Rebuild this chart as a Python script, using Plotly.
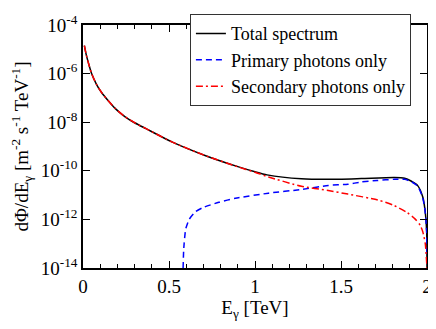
import plotly.graph_objects as go

# values
x_total = [0.008, 0.018, 0.031, 0.05, 0.079, 0.108, 0.147, 0.185, 0.243,
           0.30, 0.367, 0.52, 0.713, 0.9, 1.0, 1.07, 1.27, 1.426, 1.618,
           1.81, 1.87, 1.907, 1.946, 1.975, 1.988, 1.998, 2.0]
y_total = [1.41e-5, 6.3e-6, 2.82e-6, 1.0e-6, 3.55e-7, 1.66e-7, 7.6e-8,
           3.8e-8, 1.7e-8, 9.5e-9, 5.4e-9, 1.51e-9, 4.17e-10, 1.48e-10,
           9.1e-11, 6.8e-11, 4.7e-11, 4.47e-11, 4.8e-11, 5.25e-11, 4.9e-11,
           3.8e-11, 2.45e-11, 8.5e-12, 2.57e-12, 3.2e-13, 1e-14]

x_primary = [0.582, 0.585, 0.588, 0.597, 0.617, 0.655, 0.694, 0.79, 0.886,
             1.078, 1.27, 1.426, 1.54, 1.618, 1.71, 1.81, 1.87, 1.907, 1.946,
             1.975, 1.988, 1.998, 2.0]
y_primary = [1e-14, 5e-14, 1.02e-13, 4e-13, 1e-12, 2.1e-12, 3.0e-12, 5.1e-12,
             7.4e-12, 1.2e-11, 1.7e-11, 2.5e-11, 2.8e-11, 3.47e-11, 4.0e-11,
             4.47e-11, 4.47e-11, 3.63e-11, 2.34e-11, 7.9e-12, 2.5e-12, 3.2e-13,
             1e-14]

x_secondary = [0.008, 0.018, 0.031, 0.05, 0.079, 0.108, 0.147, 0.185, 0.243,
               0.30, 0.367, 0.52, 0.713, 0.9, 1.0, 1.078, 1.27, 1.426, 1.54,
               1.714, 1.81, 1.885, 1.93, 1.96, 1.975, 1.99, 2.0]
y_secondary = [1.41e-5, 6.3e-6, 2.82e-6, 1.0e-6, 3.55e-7, 1.66e-7, 7.6e-8,
               3.8e-8, 1.7e-8, 9.5e-9, 5.4e-9, 1.51e-9, 4.17e-10, 1.46e-10,
               8.7e-11, 5.6e-11, 2.3e-11, 1.55e-11, 1.1e-11, 6.3e-12, 3.7e-12,
               1.9e-12, 1.05e-12, 5.75e-13, 3.2e-13, 1e-13, 1e-14]

y_tickvals = [1e-14, 1e-12, 1e-10, 1e-8, 1e-6, 1e-4]
y_ticktext = ["10<sup>-14</sup>", "10<sup>-12</sup>", "10<sup>-10</sup>",
              "10<sup>-8</sup>", "10<sup>-6</sup>", "10<sup>-4</sup>"]
x_tickvals = [0, 0.5, 1, 1.5, 2]
x_ticktext = ["0", "0.5", "1", "1.5", "2"]

FONT = "Liberation Serif, Times New Roman, Times, serif"
FS = 19

# the page body has an 8px margin, so the figure is sized to fit inside it
fig = go.Figure()
fig.add_trace(go.Scatter(x=x_total, y=y_total, mode="lines",
                         name="Total spectrum",
                         line=dict(color="black", width=1.5, shape="spline",
                                   smoothing=0.6)))
fig.add_trace(go.Scatter(x=x_primary, y=y_primary, mode="lines",
                         name="Primary photons only",
                         line=dict(color="#0000ff", width=1.5, dash="6px,4px",
                                   shape="spline", smoothing=0.5)))
fig.add_trace(go.Scatter(x=x_secondary, y=y_secondary, mode="lines",
                         name="Secondary photons only",
                         line=dict(color="#ff0000", width=1.5,
                                   dash="7px,3px,2px,3px",
                                   shape="spline", smoothing=0.6)))

fig.update_layout(
    width=428, height=313,
    margin=dict(l=75, r=7, t=4, b=53),
    plot_bgcolor="white", paper_bgcolor="white",
    font=dict(family=FONT, size=FS, color="black"),
    showlegend=True,
    legend=dict(x=0.632, y=0.855, xanchor="center", yanchor="middle",
                bordercolor="#333333", borderwidth=1, bgcolor="white",
                font=dict(family=FONT, size=18, color="black"), itemwidth=30,
                tracegroupgap=0),
    xaxis=dict(range=[0, 2], tickvals=x_tickvals, ticktext=x_ticktext,
               ticks="inside", ticklen=7, tickcolor="black",
               ticklabeloverflow="allow",
               tickfont=dict(family=FONT, size=FS, color="black"),
               showline=True, linecolor="black", linewidth=1.5,
               mirror="allticks", showgrid=False, zeroline=False,
               minor=dict(dtick=0.1, ticks="inside", ticklen=4,
                          tickcolor="black", showgrid=False),
               title=dict(text="E<sub>γ</sub> [TeV]", standoff=2,
                          font=dict(family=FONT, size=FS, color="black"))),
    yaxis=dict(type="log", range=[-14, -4], tickvals=y_tickvals,
               ticktext=y_ticktext, ticks="inside", ticklen=7,
               ticklabeloverflow="allow",
               tickfont=dict(family=FONT, size=FS, color="black"),
               tickcolor="black", showline=True, linecolor="black",
               linewidth=1.5, mirror="allticks", showgrid=False,
               zeroline=False,
               title=dict(text="dΦ/dE<sub>γ</sub> [m<sup>-2</sup> s<sup>-1</sup> TeV<sup>-1</sup>]",
                          standoff=14,
                          font=dict(family=FONT, size=FS, color="black"))),
)

fig.write_html("out.html")
